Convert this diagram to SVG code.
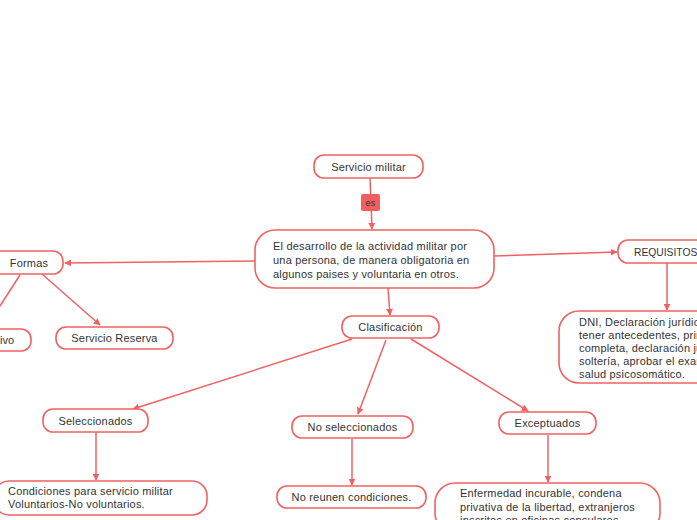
<svg xmlns="http://www.w3.org/2000/svg" width="697" height="520" viewBox="0 0 697 520">
<defs>
<marker id="ah" viewBox="0 0 10 10" refX="9" refY="5" markerWidth="7" markerHeight="7" orient="auto-start-reverse" markerUnits="userSpaceOnUse">
<path d="M0,0 L10,5 L0,10 z" fill="#f06262"/>
</marker>
<style>
.b{fill:#fff;stroke:#f06262;stroke-width:1.6}
.t{font-family:"Liberation Sans",Arial,sans-serif;font-size:11px;fill:#333;letter-spacing:0.2px}
.c{stroke:#f06262;stroke-width:1.5;fill:none;marker-end:url(#ah)}
.n{stroke:#f06262;stroke-width:1.5;fill:none}
</style>
</defs>
<rect width="697" height="520" fill="#fff"/>
<g id="connectors">
<line class="c" x1="370" y1="178" x2="372" y2="229"/>
<line class="c" x1="255" y1="261" x2="65" y2="263"/>
<line class="n" x1="20" y1="275" x2="0" y2="306"/>
<line class="c" x1="42" y1="274" x2="100" y2="325"/>
<line class="c" x1="494" y1="256" x2="617" y2="252"/>
<line class="c" x1="667" y1="263" x2="667" y2="310"/>
<line class="c" x1="388" y1="288" x2="390" y2="315"/>
<line class="c" x1="352" y1="339" x2="133" y2="409"/>
<line class="c" x1="386" y1="340" x2="358" y2="414"/>
<line class="c" x1="411" y1="339" x2="528" y2="411"/>
<line class="c" x1="96" y1="432" x2="96" y2="480"/>
<line class="c" x1="352" y1="439" x2="352" y2="485"/>
<line class="c" x1="548" y1="435" x2="548" y2="482"/>
</g>
<g id="es">
<rect x="361" y="194" width="19" height="17" rx="2" fill="#f05e5e"/>
<text class="t" x="370.5" y="206" text-anchor="middle" style="font-size:9px">es</text>
</g>
<g id="servicio-militar">
<rect class="b" x="314" y="155" width="109" height="23" rx="10"/>
<text class="t" x="368.5" y="170.5" text-anchor="middle">Servicio militar</text>
</g>
<g id="desarrollo">
<rect class="b" x="255" y="230" width="239" height="58" rx="20"/>
<text class="t" x="273" y="250">El desarrollo de la actividad militar por</text>
<text class="t" x="273" y="264">una persona, de manera obligatoria en</text>
<text class="t" x="273" y="278">algunos paises y voluntaria en otros.</text>
</g>
<g id="formas">
<rect class="b" x="-12" y="251" width="75" height="23" rx="10"/>
<text class="t" x="29" y="266.5" text-anchor="middle">Formas</text>
</g>
<g id="activo">
<rect class="b" x="-60" y="329" width="91" height="22" rx="10"/>
<text class="t" x="14" y="344" text-anchor="end" style="letter-spacing:0">ivo</text>
</g>
<g id="reserva">
<rect class="b" x="56" y="327" width="117" height="22" rx="10"/>
<text class="t" x="114.5" y="342" text-anchor="middle">Servicio Reserva</text>
</g>
<g id="requisitos">
<rect class="b" x="618" y="240" width="100" height="23" rx="10"/>
<text class="t" x="634" y="255.5" style="letter-spacing:0;font-size:10.3px">REQUISITOS</text>
</g>
<g id="dni">
<rect class="b" x="559" y="311" width="160" height="72" rx="20"/>
<text class="t" x="579" y="326">DNI, Declaración jurídic</text>
<text class="t" x="579" y="339">tener antecedentes, prin</text>
<text class="t" x="579" y="352">completa, declaración ju</text>
<text class="t" x="579" y="365">soltería, aprobar el exan</text>
<text class="t" x="579" y="378">salud psicosomático.</text>
</g>
<g id="clasificacion">
<rect class="b" x="342" y="316" width="97" height="22" rx="10"/>
<text class="t" x="390.5" y="331" text-anchor="middle">Clasificación</text>
</g>
<g id="seleccionados">
<rect class="b" x="43" y="409" width="105" height="23" rx="10"/>
<text class="t" x="95.5" y="424.5" text-anchor="middle">Seleccionados</text>
</g>
<g id="no-seleccionados">
<rect class="b" x="292" y="416" width="121" height="22" rx="10"/>
<text class="t" x="352.5" y="431" text-anchor="middle">No seleccionados</text>
</g>
<g id="exceptuados">
<rect class="b" x="499" y="412" width="97" height="22" rx="10"/>
<text class="t" x="547.5" y="427" text-anchor="middle">Exceptuados</text>
</g>
<g id="condiciones">
<rect class="b" x="-6" y="481" width="213" height="34" rx="15"/>
<text class="t" x="8" y="495">Condiciones para servicio militar</text>
<text class="t" x="8" y="508">Voluntarios-No voluntarios.</text>
</g>
<g id="no-reunen">
<rect class="b" x="277" y="486" width="149" height="22" rx="10"/>
<text class="t" x="351.5" y="501" text-anchor="middle">No reunen condiciones.</text>
</g>
<g id="enfermedad">
<rect class="b" x="435" y="483" width="225" height="50" rx="20"/>
<text class="t" x="460" y="497">Enfermedad incurable, condena</text>
<text class="t" x="460" y="511">privativa de la libertad, extranjeros</text>
<text class="t" x="460" y="524">inscritos en oficinas consulares</text>
</g>
</svg>
